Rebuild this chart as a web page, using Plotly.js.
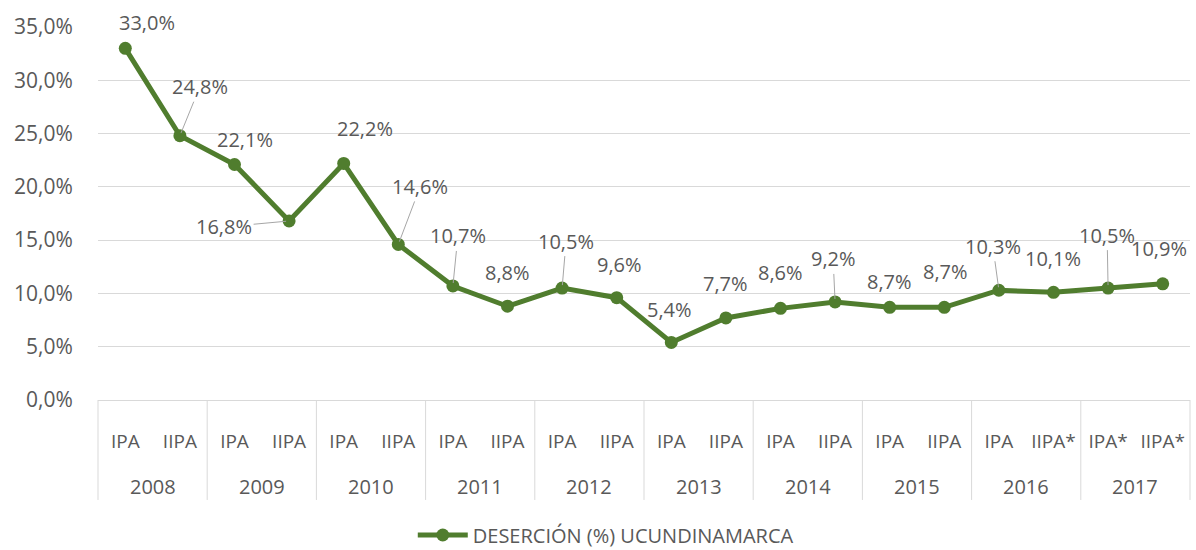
<!DOCTYPE html>
<html>
<head>
<meta charset="utf-8">
<script src="https://cdn.plot.ly/plotly-3.0.1.min.js"></script>
<style>html,body{margin:0;padding:0;background:#fff;}#chart{width:1196px;height:550px;}</style>
</head>
<body>
<div id="chart"></div>
<script>
const years = ["2008","2009","2010","2011","2012","2013","2014","2015","2016","2017"];
const periods = ["IPA","IIPA","IPA","IIPA","IPA","IIPA","IPA","IIPA","IPA","IIPA","IPA","IIPA","IPA","IIPA","IPA","IIPA","IPA","IIPA*","IPA*","IIPA*"];
const desercion = [33.0,24.8,22.1,16.8,22.2,14.6,10.7,8.8,10.5,9.6,5.4,7.7,8.6,9.2,8.7,8.7,10.3,10.1,10.5,10.9];
const labelText = ["33,0%","24,8%","22,1%","16,8%","22,2%","14,6%","10,7%","8,8%","10,5%","9,6%","5,4%","7,7%","8,6%","9,2%","8,7%","8,7%","10,3%","10,1%","10,5%","10,9%"];
// label offsets (pixels) and whether a leader line is drawn
const labelDx = [22,20,10,-65,21,22,5,0,4,3,-2,0,0,-2,0,1,-6,-1,-1,-4];
const labelDy = [-26,-49,-25,6,-35,-58,-50,-34,-47,-33,-33,-34,-36,-43,-26,-36,-44,-34,-53,-35];
const leader = [false,true,false,true,false,true,true,false,true,false,false,false,false,true,false,false,true,false,true,false];
const seriesName = "DESERCIÓN (%) UCUNDINAMARCA";

const green = "#507d2e";
const textColor = "#595959";
const gridColor = "#d9d9d9";
const fontFam = "'Open Sans', 'Noto Sans', sans-serif";

const xIdx = desercion.map((_, i) => i);

const annotations = desercion.map((v, i) => ({
  x: i, y: v, xref: "x", yref: "y",
  text: labelText[i],
  showarrow: true, arrowhead: 0, arrowwidth: 1,
  arrowcolor: leader[i] ? "#a6a6a6" : "rgba(0,0,0,0)",
  standoff: 3,
  ax: labelDx[i], ay: labelDy[i],
  font: {family: fontFam, size: 20, color: textColor}
}));

const nCat = desercion.length;
const shapes = [];
// year group boxes below the axis
for (let k = 0; k <= years.length; k++) {
  const px = (2 * k) / nCat;
  shapes.push({type: "line", xref: "paper", yref: "paper", x0: px, x1: px, y0: 0, y1: -0.268,
    line: {color: gridColor, width: 1}});
}
years.forEach((yr, k) => {
  annotations.push({
    x: (2 * k + 1) / nCat, y: -0.2306, xref: "paper", yref: "paper",
    text: yr, showarrow: false, xanchor: "center", yanchor: "middle",
    font: {family: fontFam, size: 20, color: textColor}
  });
});

const trace = {
  x: xIdx, y: desercion, type: "scatter", mode: "lines+markers",
  name: seriesName,
  line: {color: green, width: 5},
  marker: {color: green, size: 13},
  showlegend: true
};

const layout = {
  width: 1196, height: 550,
  margin: {l: 98, r: 6, t: 27, b: 150, autoexpand: false},
  paper_bgcolor: "#fff", plot_bgcolor: "#fff",
  font: {family: fontFam, color: textColor},
  xaxis: {
    range: [-0.5, nCat - 0.5], tickmode: "array", tickvals: xIdx, ticktext: periods,
    ticks: "outside", ticklen: 24, tickcolor: "rgba(0,0,0,0)",
    showgrid: false, zeroline: false, showline: true, linecolor: gridColor, linewidth: 1,
    tickfont: {family: fontFam, size: 19, color: textColor}, fixedrange: true
  },
  yaxis: {
    range: [0, 35], tickvals: [0,5,10,15,20,25,30,35],
    ticktext: ["0,0%","5,0%","10,0%","15,0%","20,0%","25,0%","30,0%","35,0%"],
    showgrid: true, gridcolor: gridColor, gridwidth: 1, zeroline: false, showline: false,
    ticks: "outside", ticklen: 20, tickcolor: "rgba(0,0,0,0)",
    tickfont: {family: fontFam, size: 21, color: textColor}, fixedrange: true
  },
  showlegend: true,
  legend: {
    orientation: "h", x: 0.465, y: -0.362, xanchor: "center", yanchor: "middle",
    font: {family: fontFam, size: 20, color: textColor}, itemwidth: 50
  },
  annotations: annotations,
  shapes: shapes
};

Plotly.newPlot("chart", [trace], layout, {displayModeBar: false, staticPlot: true});
</script>
</body>
</html>
